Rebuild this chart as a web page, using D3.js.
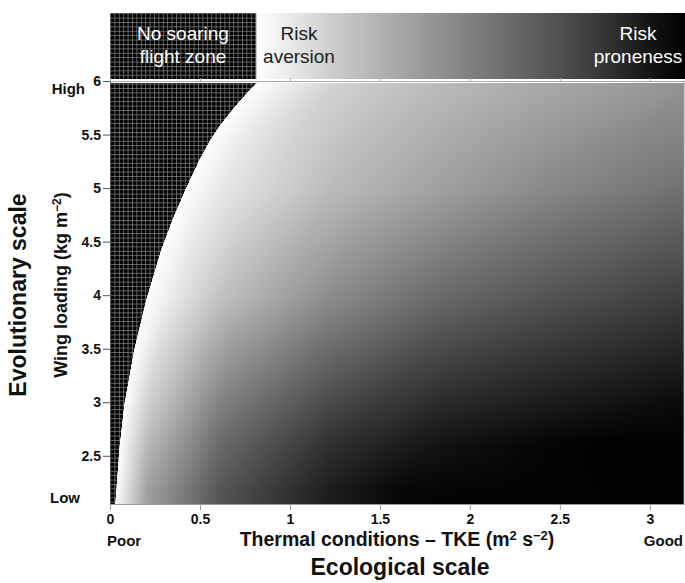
<!DOCTYPE html>
<html>
<head>
<meta charset="utf-8">
<script src="https://cdn.jsdelivr.net/npm/d3@7"></script>
<style>
body{margin:0;background:#fff;}
svg text{font-family:"Liberation Sans",Arial,sans-serif;}
</style>
</head>
<body>
<svg id="chart" width="685" height="583"></svg>
<script>
/* Data */
// 横轴 热力条件 TKE，纵轴 翼载
var X_TICKS=[0,0.5,1,1.5,2,2.5,3];
var Y_TICKS=[2.5,3,3.5,4,4.5,5,5.5,6];
var X_DOMAIN=[0,3.19];
var Y_DOMAIN=[2.05,6];

// no soaring zone boundary (TKE, wing loading)
var BOUNDARY_TKE=[0.028,0.033,0.050,0.078,0.133,0.200,0.283,0.345,0.417,0.495,0.556,0.611,0.678,0.725,0.775,0.828];
var BOUNDARY_WL=[2.05,2.16,2.555,2.975,3.488,3.955,4.422,4.702,4.982,5.262,5.449,5.589,5.729,5.823,5.916,6.0];

// grey level along some rows of the map (255 white, 0 black)
var SHADE_WL=[2.16,2.6,2.98,3.96,5.0,5.9];
var SHADE_TKE=[
	[0.033,0.206,0.613,1.226,1.639,3.19],
	[0.053,0.206,0.613,1.226,1.839,2.453,2.78,3.19],
	[0.078,0.206,0.613,1.226,1.839,2.453,3.066,3.19],
	[0.200,0.613,1.226,1.839,2.453,3.066,3.19],
	[0.422,0.613,1.226,1.839,2.453,3.066,3.19],
	[0.766,1.226,1.839,2.453,3.066,3.19]
];
var SHADE_GREY=[
	[255,160,85,28,5,0],
	[255,185,105,48,18,4,0,0],
	[255,208,128,72,42,26,12,10],
	[255,192,138,104,82,64,60],
	[255,232,187,160,136,117,112],
	[255,208,184,166,149,143]
];

// risk bar on top
var RISK_TKE=[0.814,1.28,1.895,2.45,2.73,2.95,3.19];
var RISK_GREY=[255,200,138,85,56,26,0];

/* Layout */
var LEFT=110, RIGHT=684, AXIS_TOP=81, PLOT_TOP=83, BOTTOM=504;
var BAR_TOP=13, BAR_BOTTOM=79;
var GRID_STEP=4.4;

var svg=d3.select("#chart");
var x=d3.scaleLinear().domain(X_DOMAIN).range([LEFT,RIGHT]);
var y=d3.scaleLinear().domain(Y_DOMAIN).range([BOTTOM,AXIS_TOP]);
var defs=svg.append("defs");

// 网格纹理
var pat=defs.append("pattern").attr("id","grid")
	.attr("patternUnits","userSpaceOnUse")
	.attr("width",GRID_STEP).attr("height",GRID_STEP);
pat.append("rect").attr("width",GRID_STEP).attr("height",GRID_STEP).attr("fill","#000");
pat.append("path").attr("d","M0,0.5H"+GRID_STEP+"M0.5,0V"+GRID_STEP)
	.attr("stroke","#7a7a7a").attr("stroke-width",0.8);

defs.append("clipPath").attr("id","plotClip")
	.append("rect").attr("x",LEFT).attr("y",PLOT_TOP).attr("width",RIGHT-LEFT).attr("height",BOTTOM-PLOT_TOP);

//helpers
function boundaryAt(w){
	var i=d3.bisectRight(BOUNDARY_WL,w);
	if(i<=0){return BOUNDARY_TKE[0];}
	if(i>=BOUNDARY_WL.length){return BOUNDARY_TKE[BOUNDARY_WL.length-1];}
	var f=(w-BOUNDARY_WL[i-1])/(BOUNDARY_WL[i]-BOUNDARY_WL[i-1]);
	return BOUNDARY_TKE[i-1]+f*(BOUNDARY_TKE[i]-BOUNDARY_TKE[i-1]);
}
function rowGrey(r,excess){
	var ts=SHADE_TKE[r],gs=SHADE_GREY[r];
	var t=ts[0]+excess;
	var i=d3.bisectRight(ts,t);
	if(i>=ts.length){return gs[gs.length-1];}
	if(i<=0){return gs[0];}
	var f=(t-ts[i-1])/(ts[i]-ts[i-1]);
	return gs[i-1]+f*(gs[i]-gs[i-1]);
}
function greyAt(t,w){
	var excess=t-boundaryAt(w);
	if(excess<0){return 0;}
	var i=d3.bisectRight(SHADE_WL,w);
	if(i<=0){return rowGrey(0,excess);}
	if(i>=SHADE_WL.length){return rowGrey(SHADE_WL.length-1,excess);}
	var f=(w-SHADE_WL[i-1])/(SHADE_WL[i]-SHADE_WL[i-1]);
	return rowGrey(i-1,excess)*(1-f)+rowGrey(i,excess)*f;
}

/* Risk bar */
var gx1=x(RISK_TKE[0]), gx2=x(RISK_TKE[RISK_TKE.length-1]);
var grad=defs.append("linearGradient").attr("id","riskGrad")
	.attr("gradientUnits","userSpaceOnUse")
	.attr("x1",gx1).attr("x2",gx2).attr("y1",0).attr("y2",0);
for(var i=0;i<RISK_TKE.length;i++){
	var g=RISK_GREY[i];
	grad.append("stop")
		.attr("offset",(x(RISK_TKE[i])-gx1)/(gx2-gx1))
		.attr("stop-color","rgb("+g+","+g+","+g+")");
}
svg.append("rect")
	.attr("x",LEFT).attr("y",BAR_TOP)
	.attr("width",gx1-LEFT).attr("height",BAR_BOTTOM-BAR_TOP)
	.attr("fill","url(#grid)");
svg.append("rect")
	.attr("x",gx1).attr("y",BAR_TOP)
	.attr("width",685-gx1).attr("height",BAR_BOTTOM-BAR_TOP)
	.attr("fill","url(#riskGrad)");

function twoLines(cx,lines,color){
	var t=svg.append("text")
		.attr("text-anchor","middle")
		.style("font-size","19px")
		.style("fill",color);
	t.append("tspan").attr("x",cx).attr("y",40).text(lines[0]);
	t.append("tspan").attr("x",cx).attr("y",63).text(lines[1]);
}
twoLines(183,["No soaring","flight zone"],"#fff");
twoLines(299,["Risk","aversion"],"#222");
twoLines(638,["Risk","proneness"],"#fff");

/* Map */
var W=RIGHT-LEFT, H=BOTTOM-PLOT_TOP;
var canvas=document.createElement("canvas");
canvas.width=W; canvas.height=H;
var ctx=canvas.getContext("2d");
var img=ctx.createImageData(W,H);
for(var j=0;j<H;j++){
	var wl=y.invert(PLOT_TOP+j+0.5);
	for(var k=0;k<W;k++){
		var tke=x.invert(LEFT+k+0.5);
		var gv=Math.round(greyAt(tke,wl));
		var p=(j*W+k)*4;
		img.data[p]=gv; img.data[p+1]=gv; img.data[p+2]=gv; img.data[p+3]=255;
	}
}
ctx.putImageData(img,0,0);
svg.append("image")
	.attr("x",LEFT).attr("y",PLOT_TOP)
	.attr("width",W).attr("height",H)
	.attr("preserveAspectRatio","none")
	.attr("href",canvas.toDataURL());

var zone=[[0,Y_DOMAIN[0]]];
for(var i=0;i<BOUNDARY_TKE.length;i++){zone.push([BOUNDARY_TKE[i],BOUNDARY_WL[i]]);}
zone.push([0,Y_DOMAIN[1]]);
svg.append("path")
	.datum(zone)
	.attr("clip-path","url(#plotClip)")
	.attr("fill","url(#grid)")
	.attr("d",d3.line().x(function(d){return x(d[0]);}).y(function(d){return y(d[1]);}));

/* Axes */
svg.append("rect").attr("x",LEFT).attr("y",BAR_BOTTOM).attr("width",685-LEFT).attr("height",PLOT_TOP-BAR_BOTTOM).attr("fill","#fff");

var fmt=function(d){return String(d);};

var topAxis=svg.append("g").attr("transform","translate(0,"+AXIS_TOP+")")
	.call(d3.axisTop(x).tickValues(X_TICKS).tickSize(3).tickSizeOuter(0).tickFormat(""));
topAxis.selectAll("path,line").attr("stroke","#aaa");

svg.append("line")
	.attr("x1",RIGHT).attr("x2",RIGHT).attr("y1",AXIS_TOP).attr("y2",BOTTOM)
	.attr("stroke","#999");

var leftAxis=svg.append("g").attr("transform","translate("+LEFT+",0)")
	.call(d3.axisLeft(y).tickValues(Y_TICKS).tickSize(7).tickPadding(2).tickSizeOuter(0).tickFormat(fmt));
leftAxis.selectAll("path,line").attr("stroke","#555");
leftAxis.selectAll("text").style("font-size","14px").style("font-weight","bold").attr("fill","#111");

var bottomAxis=svg.append("g").attr("transform","translate(0,"+BOTTOM+")")
	.call(d3.axisBottom(x).tickValues(X_TICKS).tickSize(6).tickPadding(4).tickSizeOuter(0).tickFormat(fmt));
bottomAxis.selectAll("path,line").attr("stroke","#999");
bottomAxis.selectAll("text").style("font-size","14px").style("font-weight","bold").attr("fill","#111");

/* Labels */
function label(txt,xx,yy,anchor,size){
	return svg.append("text").text(txt)
		.attr("x",xx).attr("y",yy)
		.attr("text-anchor",anchor)
		.style("font-size",size+"px").style("font-weight","bold").style("fill","#111");
}
label("High",85,94,"end",15);
label("Low",80,503,"end",15);
label("Poor",107,546,"start",15);
label("Good",683,546,"end",15);

var xt=svg.append("text").attr("x",397).attr("y",546).attr("text-anchor","middle")
	.style("font-size","19.5px").style("font-weight","bold").style("fill","#111");
xt.append("tspan").text("Thermal conditions \u2013 TKE (m");
xt.append("tspan").attr("dy",-6).style("font-size","13px").text("2");
xt.append("tspan").attr("dy",6).text(" s");
xt.append("tspan").attr("dy",-6).style("font-size","13px").text("\u22122");
xt.append("tspan").attr("dy",6).text(")");

label("Ecological scale",400,575,"middle",23);

label("Evolutionary scale",0,0,"middle",23).attr("transform","translate(26,295) rotate(-90)");

var yt=svg.append("text").attr("transform","translate(67,285) rotate(-90)").attr("text-anchor","middle")
	.style("font-size","18px").style("font-weight","bold").style("fill","#111");
yt.append("tspan").text("Wing loading (kg m");
yt.append("tspan").attr("dy",-6).style("font-size","12px").text("\u22122");
yt.append("tspan").attr("dy",6).text(")");
</script>
</body>
</html>
